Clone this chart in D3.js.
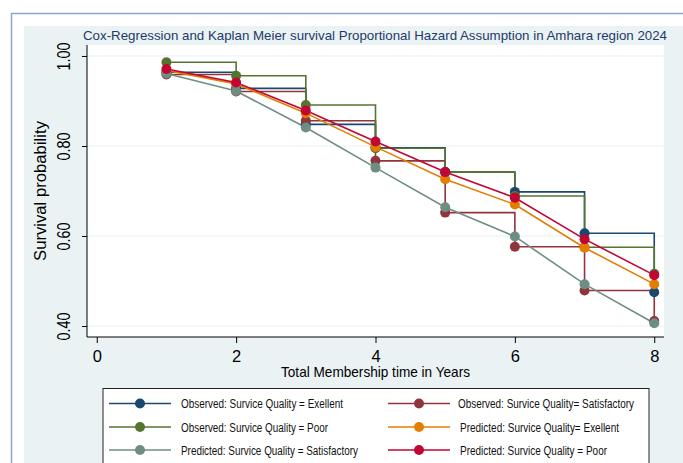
<!DOCTYPE html>
<html>
<head>
<meta charset="utf-8">
<script src="https://cdn.jsdelivr.net/npm/d3@7"></script>
<style>
  html, body { margin: 0; padding: 0; background: #ffffff; }
  svg { display: block; }
  text { font-family: "Liberation Sans Narrow", "Arial Narrow", "Liberation Sans", Arial, sans-serif; }
</style>
</head>
<body>
<svg id="chart" width="683" height="463"></svg>
<script>
// ---------- data ----------
const times = [1, 2, 3, 4, 5, 6, 7, 8];
const obsExcellent     = [0.964, 0.928, 0.848, 0.796, 0.742, 0.698, 0.606, 0.475];
const obsSatisfactory  = [0.959, 0.921, 0.856, 0.767, 0.652, 0.576, 0.479, 0.411];
const obsPoor          = [0.986, 0.956, 0.891, 0.795, 0.742, 0.689, 0.575, 0.516];
const predExcellent    = [0.968, 0.938, 0.873, 0.798, 0.726, 0.670, 0.574, 0.493];
const predSatisfactory = [0.961, 0.922, 0.841, 0.752, 0.664, 0.599, 0.493, 0.406];
const predPoor         = [0.971, 0.941, 0.879, 0.810, 0.742, 0.685, 0.593, 0.513];
const xTicks = [0, 2, 4, 6, 8];
const yTicks = [0.40, 0.60, 0.80, 1.00];
const seriesNames = [
  "Observed: Survice Quality = Exellent",
  "Observed: Survice Quality= Satisfactory",
  "Observed: Survice Quality = Poor",
  "Predicted: Survice Quality= Exellent",
  "Predicted: Survice Quality = Satisfactory",
  "Predicted: Survice Quality = Poor"
];
const titleText = "Cox-Regression and Kaplan Meier survival Proportional Hazard Assumption in Amhara region 2024";
const xTitle = "Total Membership time in Years";
const yTitle = "Survival probability";

// ---------- styles ----------
const series = [
  { name: seriesNames[0], values: obsExcellent,     color: "#1a476f", step: true },
  { name: seriesNames[1], values: obsSatisfactory,  color: "#90353b", step: true },
  { name: seriesNames[2], values: obsPoor,          color: "#55752f", step: true },
  { name: seriesNames[3], values: predExcellent,    color: "#e37e00", step: false },
  { name: seriesNames[4], values: predSatisfactory, color: "#6e8e84", step: false },
  { name: seriesNames[5], values: predPoor,         color: "#c10534", step: false }
];

const svg = d3.select("#chart");
const W = 683, H = 463;

// outer frame + graph region background
svg.append("rect").attr("x", 0).attr("y", 0).attr("width", W).attr("height", H).attr("fill", "#ffffff");
svg.append("rect").attr("x", 24).attr("y", 26).attr("width", W - 24).attr("height", H - 26).attr("fill", "#eaf2f3");
svg.append("path").attr("d", `M${W},13.5 H11.5 V${H}`).attr("fill", "none").attr("stroke", "#8aa5d8").attr("stroke-width", 1.5);

// plot region
const plot = { left: 87, right: 664, top: 45, bottom: 337 };
const x = d3.scaleLinear().domain([-0.14, 8.14]).range([plot.left, plot.right]);
const y = d3.scaleLinear().domain([0.3756, 1.0244]).range([plot.bottom, plot.top]);

svg.append("rect").attr("x", plot.left).attr("y", plot.top)
  .attr("width", plot.right - plot.left).attr("height", plot.bottom - plot.top)
  .attr("fill", "#ffffff");

// gridlines
svg.append("g").selectAll("line").data(yTicks).join("line")
  .attr("x1", plot.left).attr("x2", plot.right)
  .attr("y1", d => y(d)).attr("y2", d => y(d))
  .attr("stroke", "#eaf2f3").attr("stroke-width", 1.2);

// axes
const yAxis = svg.append("g").attr("transform", `translate(${plot.left},0)`)
  .call(d3.axisLeft(y).tickValues(yTicks).tickFormat(d3.format(".2f")).tickSize(5).tickSizeOuter(0));
yAxis.select(".domain").remove();
yAxis.append("line").attr("x1", 0).attr("x2", 0).attr("y1", plot.top).attr("y2", plot.bottom)
  .attr("stroke", "#000").attr("stroke-width", 1);
yAxis.selectAll(".tick line").attr("stroke", "#000");
yAxis.selectAll(".tick text")
  .attr("transform", "rotate(-90)")
  .attr("x", 0).attr("y", -17).attr("dy", 0)
  .attr("text-anchor", "middle")
  .attr("font-size", 18).attr("fill", "#000")
  .attr("textLength", 28).attr("lengthAdjust", "spacingAndGlyphs");

const xAxis = svg.append("g").attr("transform", `translate(0,${plot.bottom})`)
  .call(d3.axisBottom(x).tickValues(xTicks).tickFormat(d3.format("d")).tickSize(6).tickSizeOuter(0));
xAxis.select(".domain").remove();
xAxis.append("line").attr("x1", plot.left).attr("x2", plot.right).attr("y1", 0).attr("y2", 0)
  .attr("stroke", "#000").attr("stroke-width", 1);
xAxis.selectAll(".tick line").attr("stroke", "#000");
xAxis.selectAll(".tick text").attr("y", 25).attr("dy", 0)
  .attr("font-size", 16.5).attr("fill", "#000");

// axis titles
svg.append("text").attr("x", (x(0) + x(8)) / 2).attr("y", 377)
  .attr("text-anchor", "middle").attr("font-size", 14.5).attr("fill", "#000")
  .attr("textLength", 189).attr("lengthAdjust", "spacingAndGlyphs")
  .text(xTitle);
svg.append("text").attr("transform", `translate(46,${(y(0.4) + y(1.0)) / 2}) rotate(-90)`)
  .attr("text-anchor", "middle").attr("font-size", 17).attr("fill", "#000")
  .attr("textLength", 140).attr("lengthAdjust", "spacingAndGlyphs")
  .text(yTitle);

// title
svg.append("text").attr("x", 83).attr("y", 40)
  .attr("font-size", 13).attr("fill", "#1e3a6a")
  .attr("textLength", 584).attr("lengthAdjust", "spacingAndGlyphs")
  .text(titleText);

// series
const lineStep = d3.line().x(d => x(d[0])).y(d => y(d[1])).curve(d3.curveStepAfter);
const lineStraight = d3.line().x(d => x(d[0])).y(d => y(d[1]));
const gSeries = svg.append("g");
series.forEach(s => {
  const pts = times.map((t, i) => [t, s.values[i]]);
  gSeries.append("path").attr("d", (s.step ? lineStep : lineStraight)(pts))
    .attr("fill", "none").attr("stroke", s.color).attr("stroke-width", 1.6);
});
series.forEach(s => {
  const pts = times.map((t, i) => [t, s.values[i]]);
  gSeries.append("g").selectAll("circle").data(pts).join("circle")
    .attr("cx", d => x(d[0])).attr("cy", d => y(d[1])).attr("r", 5)
    .attr("fill", s.color);
});

// legend
const legend = svg.append("g");
legend.append("rect").attr("x", 103).attr("y", 388.5).attr("width", 546).attr("height", 100)
  .attr("fill", "#ffffff").attr("stroke", "#222").attr("stroke-width", 1);
const legCols = [
  { lx1: 109, lx2: 171, mx: 140, tx: 181 },
  { lx1: 388, lx2: 450, mx: 419, tx: 458 }
];
const legRows = [403.5, 427, 450];
const legWidths = [162, 176, 147, 159, 177, 147];
series.forEach((s, i) => {
  const c = legCols[i % 2], ry = legRows[Math.floor(i / 2)];
  const g = legend.append("g");
  g.append("line").attr("x1", c.lx1).attr("x2", c.lx2).attr("y1", ry).attr("y2", ry)
    .attr("stroke", s.color).attr("stroke-width", 1.6);
  g.append("circle").attr("cx", c.mx).attr("cy", ry).attr("r", 5).attr("fill", s.color);
  g.append("text").attr("x", c.tx + (i % 2 === 1 && i > 1 ? 2 : 0)).attr("y", ry + 4.5)
    .attr("font-size", 12.5).attr("fill", "#111")
    .attr("textLength", legWidths[i]).attr("lengthAdjust", "spacingAndGlyphs")
    .text(s.name);
});
</script>
</body>
</html>
